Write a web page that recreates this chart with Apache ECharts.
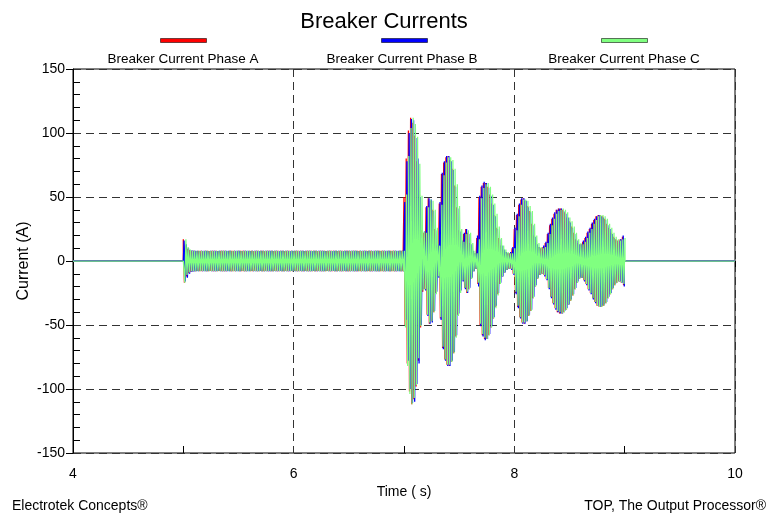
<!DOCTYPE html>
<html>
<head>
<meta charset="utf-8">
<title>Breaker Currents</title>
<script src="https://cdn.jsdelivr.net/npm/echarts@6/dist/echarts.min.js"></script>
<style>
  html, body { margin: 0; padding: 0; background: #fff; }
  #chart { width: 768px; height: 521px; }
</style>
</head>
<body>
<div id="chart"></div>
<script>
// Axis ranges and tick labels
const xRange = [4, 10];
const xTicks = [4, 6, 8, 10];
const yRange = [-150, 150];
const yTicks = [-150, -100, -50, 0, 50, 100, 150];

const seriesNames = ['Breaker Current Phase A', 'Breaker Current Phase B', 'Breaker Current Phase C'];

// Breaker energised 5.0 s .. 9.0 s; one peak current (A) per 20 ms cycle,
// each cycle drawn as a positive and a negative half.
const burstStart = 5.0;
const peakStep = 0.02;
const phaseLag = [0, 0.0067, 0.0133];
const firstPolarity = [1, 1, -1];

// 5.00 s .. 6.98 s : switching transient then steady load current
const steadyA = [17,12,9.5,8.5,8,8,7.8,8,8,7.8, 8,8,7.8,8,8,8,7.8,8,8,8, 7.8,8,8,8,7.8,8,8,8,8,7.8, 8,8,7.8,8,8,8,8,7.8,8,8, 8,7.8,8,8,8,8,7.8,8,8,8,
                 7.8,8,8,8,8,7.8,8,8,8,8, 8,7.8,8,8,8,7.8,8,8,8,8, 7.8,8,8,8,8,8,7.8,8,8,8, 8,7.8,8,8,8,8,7.8,8,8,8, 8,8,7.8,8,8,8,8,7.8,8,8];
const steadyB = [16,13,10,8.5,8.2,8,8,7.8,8,8, 8,7.8,8,8,8,7.8,8,8,8,8, 8,8,7.8,8,8,8,7.8,8,8,8, 7.8,8,8,8,7.8,8,8,8,8,8, 8,8,8,7.8,8,8,8,8,7.8,8,
                 8,8,7.8,8,8,8,8,8,7.8,8, 8,8,8,8,7.8,8,8,7.8,8,8, 8,8,7.8,8,8,8,8,8,8,7.8, 8,8,8,7.8,8,8,8,8,8,7.8, 8,8,8,8,7.8,8,8,8,8,8];
const steadyC = [17,11,9,8.2,8,8,8,8,7.8,8, 8,8,8,7.8,8,8,8,8,8,7.8, 8,8,8,8,8,8,7.8,8,8,8, 8,7.8,8,8,8,8,8,8,7.8,8, 8,8,7.8,8,8,8,8,7.8,8,8,
                 8,8,8,8,7.8,8,8,8,8,8, 7.8,8,8,8,8,8,8,7.8,8,8, 8,8,8,7.8,8,8,8,8,7.8,8, 8,8,8,8,8,7.8,8,8,8,8, 8,8,8,8,8,8,7.8,8,8,8];

// 7.00 s .. 8.98 s : capacitor bank energisation, beating oscillation
const surgeA = [50,80,102,112,108,98,78,52,24,22, 42,49,47,40,25,12,45,68,77,81, 82,79,72,59,42,24,15,21,25,22, 14,8,6,18,50,58,61,61,58,52, 45,36,26,18,12,9,7,6,6,10,
                25,36,44,48,49,47,43,39,29,20, 14,11,10,11,14,21,28,33,37,40, 41,41,40,38,34,31,27,22,17,14, 13,15,18,22,25,29,32,35,36,36, 35,33,29,26,22,19,17,16,17,19];
const surgeB = [46,78,100,111,110,96,80,50,22,23, 43,49,48,39,24,13,46,69,78,82, 82,78,71,58,41,23,16,22,25,21, 13,8,6,20,51,59,62,61,57,51, 44,35,25,17,12,9,7,6,7,11,
                26,37,45,49,49,47,42,38,28,19, 13,11,10,12,15,22,29,34,38,40, 41,41,39,37,34,30,26,21,16,13, 13,16,19,23,26,30,33,35,36,35, 34,32,28,25,21,18,16,16,17,20];
const surgeC = [52,82,104,112,107,97,76,51,23,22, 42,48,47,40,26,12,44,67,77,81, 81,79,72,60,43,25,15,21,24,22, 14,8,6,17,49,57,60,61,58,52, 45,37,27,18,12,9,7,6,6,10,
                24,35,44,48,48,47,43,39,29,20, 14,11,10,11,14,21,28,33,37,39, 40,41,40,38,34,31,27,22,17,14, 13,15,18,22,25,29,32,35,36,36, 35,33,29,26,22,19,17,16,17,18];

const phaseColors = ['#ff0000', '#0000ff', '#80ff80'];
const phaseWidths = [1.3, 1.3, 1.25];

function buildWave(steady, surge, lag, polarity) {
  const peaks = steady.concat(surge);
  const pts = [[xRange[0], 0], [burstStart, 0]];
  let t = burstStart;
  peaks.forEach(function (m, i) {
    t = burstStart + lag + i * peakStep;
    pts.push([t, polarity * m], [t + peakStep / 2, -polarity * m]);
  });
  const lastT = t + peakStep / 2;
  pts.push([lastT, 0], [xRange[1], 0]);
  return pts;
}

const waves = [
  buildWave(steadyA, surgeA, phaseLag[0], firstPolarity[0]),
  buildWave(steadyB, surgeB, phaseLag[1], firstPolarity[1]),
  buildWave(steadyC, surgeC, phaseLag[2], firstPolarity[2])
];

const FONT = '"Liberation Sans", Arial, sans-serif';
const legendIconLeft = [160, 381, 601];
const legendTextCenter = [183, 402, 624];

const chart = echarts.init(document.getElementById('chart'), null, { renderer: 'canvas' });

const GRID = { left: 73, right: 33, top: 69, bottom: 68 };
const plotW = 768 - GRID.left - GRID.right;
const plotH = 521 - GRID.top - GRID.bottom;

const axisCommonX = { type: 'value', min: xRange[0], max: xRange[1], interval: xTicks[1] - xTicks[0], gridIndex: 0 };
const axisCommonY = { type: 'value', min: yRange[0], max: yRange[1], interval: yTicks[1] - yTicks[0], gridIndex: 0 };

// Axes that only carry the minor ticks, pointing into the plot area
const minorTickAxis = {
  axisLine: { show: false },
  axisTick: { show: false },
  axisLabel: { show: false },
  splitLine: { show: false }
};

const option = {
  backgroundColor: '#ffffff',
  animation: false,
  title: {
    text: 'Breaker Currents',
    left: 'center',
    top: 6,
    textStyle: { fontFamily: FONT, fontSize: 22, fontWeight: 'normal', color: '#000' }
  },
  legend: seriesNames.map(function (name, i) {
    return {
      data: [name],
      left: legendIconLeft[i],
      top: 38,
      padding: 0,
      icon: 'rect',
      itemWidth: 46,
      itemHeight: 4,
      itemStyle: { borderColor: 'rgba(0,0,0,0.55)', borderWidth: 1 },
      formatter: function () { return ''; },
      textStyle: { fontSize: 1 }
    };
  }),
  graphic: seriesNames.map(function (name, i) {
    return {
      type: 'text', x: legendTextCenter[i], y: 59,
      style: { text: name, align: 'center', verticalAlign: 'middle', textAlign: 'center', textVerticalAlign: 'middle',
               fill: '#000', font: '13.5px ' + FONT }
    };
  }).concat([
    { type: 'text', x: 12, y: 506,
      style: { text: 'Electrotek Concepts®', align: 'left', verticalAlign: 'middle', textAlign: 'left', textVerticalAlign: 'middle', fill: '#000', font: '14px ' + FONT } },
    { type: 'text', x: 766, y: 506,
      style: { text: 'TOP, The Output Processor®', align: 'right', verticalAlign: 'middle', textAlign: 'right', textVerticalAlign: 'middle', fill: '#000', font: '14px ' + FONT } }
  ]),
  grid: Object.assign({ show: true, borderColor: '#000', borderWidth: 1, backgroundColor: 'transparent' }, GRID),
  xAxis: [
    Object.assign({}, axisCommonX, {
      position: 'bottom',
      name: 'Time ( s)',
      nameLocation: 'middle',
      nameGap: 32,
      nameMoveOverlap: false,
      nameTextStyle: { fontFamily: FONT, fontSize: 14, color: '#000' },
      axisLine: { show: true, lineStyle: { color: '#000', width: 1 } },
      axisTick: { show: true, length: 6, lineStyle: { color: '#000' } },
      axisLabel: { margin: 14, fontFamily: FONT, fontSize: 14, color: '#000' },
      splitLine: { show: true, lineStyle: { color: '#333', width: 1, type: [8, 5] } }
    }),
    Object.assign({}, axisCommonX, minorTickAxis, {
      position: 'top',
      offset: -plotH,
      minorTick: { show: true, splitNumber: 2, length: 7, lineStyle: { color: '#000', width: 1 } }
    })
  ],
  yAxis: [
    Object.assign({}, axisCommonY, {
      position: 'left',
      name: 'Current (A)',
      nameLocation: 'middle',
      nameGap: 41,
      nameMoveOverlap: false,
      nameTextStyle: { fontFamily: FONT, fontSize: 16, color: '#000' },
      axisLine: { show: true, lineStyle: { color: '#000', width: 1 } },
      axisTick: { show: true, length: 7, lineStyle: { color: '#000' } },
      axisLabel: { margin: 8, fontFamily: FONT, fontSize: 14, color: '#000' },
      splitLine: { show: true, lineStyle: { color: '#333', width: 1, type: [8, 5] } }
    }),
    Object.assign({}, axisCommonY, minorTickAxis, {
      position: 'right',
      offset: -plotW,
      minorTick: { show: true, splitNumber: 5, length: 7, lineStyle: { color: '#000', width: 1 } }
    })
  ],
  series: seriesNames.map(function (name, i) {
    return {
      name: name,
      type: 'line',
      xAxisIndex: 0,
      yAxisIndex: 0,
      data: waves[i],
      showSymbol: false,
      symbol: 'none',
      sampling: null,
      color: phaseColors[i],
      itemStyle: { color: phaseColors[i] },
      lineStyle: { color: phaseColors[i], width: phaseWidths[i] },
      z: 2 + i
    };
  })
};

chart.setOption(option);
</script>
</body>
</html>
